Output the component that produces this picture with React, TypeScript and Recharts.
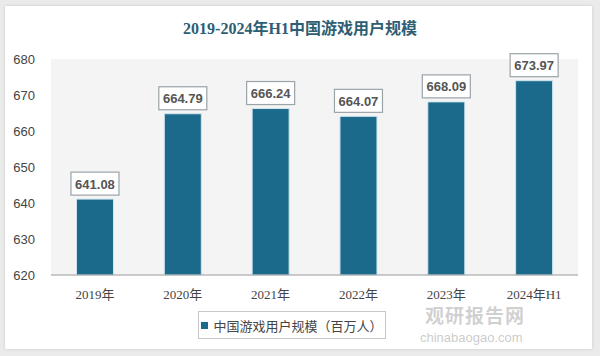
import { BarChart, Bar, XAxis, YAxis, CartesianGrid, LabelList } from 'recharts'

const years = ['2019年', '2020年', '2021年', '2022年', '2023年', '2024年H1']
const users = [641.08, 664.79, 666.24, 664.07, 668.09, 673.97]
const yTicks = [620, 630, 640, 650, 660, 670, 680]

const chartData = years.map((year, i) => ({ year, users: users[i] }))

const BAR_COLOR = '#1b6a8b'

function ValueBox(props: any) {
  const { x, y, width, value } = props
  const cx = x + width / 2
  const w = 48
  const h = 23
  const top = y - 4 - h
  return (
    <g>
      <rect x={cx - w / 2} y={top} width={w} height={h} fill="#fff" stroke="#9aa3a8" strokeWidth={1.2} />
      <text
        x={cx}
        y={top + h / 2 + 5}
        textAnchor="middle"
        fontSize={13}
        fontWeight="bold"
        fill="#555"
        fontFamily="'Liberation Sans', Arial, sans-serif"
      >
        {Number(value).toFixed(2)}
      </text>
    </g>
  )
}

function LegendBox() {
  return (
    <div
      style={{
        position: 'absolute',
        left: 198,
        top: 311,
        width: 188,
        height: 28,
        border: '1px solid #c8c8c8',
        boxSizing: 'border-box',
        display: 'flex',
        alignItems: 'center',
        justifyContent: 'center',
        gap: 5,
        fontFamily: "'Noto Sans CJK SC', sans-serif",
        fontSize: 13,
        color: '#444',
      }}
    >
      <span style={{ width: 7, height: 7, background: BAR_COLOR, display: 'inline-block' }} />
      <span>中国游戏用户规模（百万人）</span>
    </div>
  )
}

export default function App() {
  return (
    <div
      style={{
        position: 'absolute',
        left: 0,
        top: 0,
        width: 600,
        height: 356,
        background: '#ebebeb',
        overflow: 'hidden',
      }}
    >
      <div
        style={{
          position: 'absolute',
          left: 5,
          top: 6,
          width: 587,
          height: 343,
          background: '#fff',
          boxShadow: '0 0 3px rgba(0,0,0,0.15)',
        }}
      />
      <div
        style={{
          position: 'absolute',
          left: 0,
          top: 18,
          width: 600,
          textAlign: 'center',
          fontFamily: "'Liberation Serif', 'Noto Sans CJK SC', serif",
          fontWeight: 'bold',
          fontSize: 16,
          lineHeight: '22px',
          color: '#2f5d72',
        }}
      >
        2019-2024年H1中国游戏用户规模
      </div>
      <div style={{ position: 'absolute', left: 0, top: 0 }}>
        <BarChart
          width={600}
          height={356}
          data={chartData}
          margin={{ top: 59, right: 22, bottom: 51, left: 0 }}
          barCategoryGap="29%"
        >
          <CartesianGrid fill="#f4f4f4" stroke="none" />
          <XAxis
            dataKey="year"
            height={30}
            tickLine={false}
            axisLine={{ stroke: '#9a9a9a', strokeWidth: 1.2 }}
            tick={{ fontSize: 13, fill: '#444', fontFamily: "'Liberation Serif', 'Noto Sans CJK SC', serif" }}
            tickMargin={9}
            interval={0}
          />
          <YAxis
            width={51}
            domain={[620, 680]}
            ticks={yTicks}
            tickLine={false}
            axisLine={false}
            tickMargin={10}
            tick={{ fontSize: 13, fill: '#444', fontFamily: "'Liberation Sans', Arial, sans-serif" }}
          />
          <Bar dataKey="users" fill={BAR_COLOR} stroke="#cfe6f0" strokeWidth={1} isAnimationActive={false}>
            <LabelList dataKey="users" content={ValueBox} />
          </Bar>
        </BarChart>
      </div>
      <LegendBox />
      <div
        style={{
          position: 'absolute',
          left: 425,
          top: 305,
          fontFamily: "'Noto Sans CJK SC', sans-serif",
          fontWeight: 'bold',
          fontSize: 19,
          lineHeight: '19px',
          color: 'rgba(120,120,120,0.35)',
          letterSpacing: 1,
        }}
      >
        观研报告网
      </div>
      <div
        style={{
          position: 'absolute',
          left: 420,
          top: 331,
          fontFamily: "'Liberation Sans', sans-serif",
          fontSize: 13,
          lineHeight: '14px',
          color: 'rgba(120,120,120,0.4)',
        }}
      >
        chinabaogao.com
      </div>
    </div>
  )
}
